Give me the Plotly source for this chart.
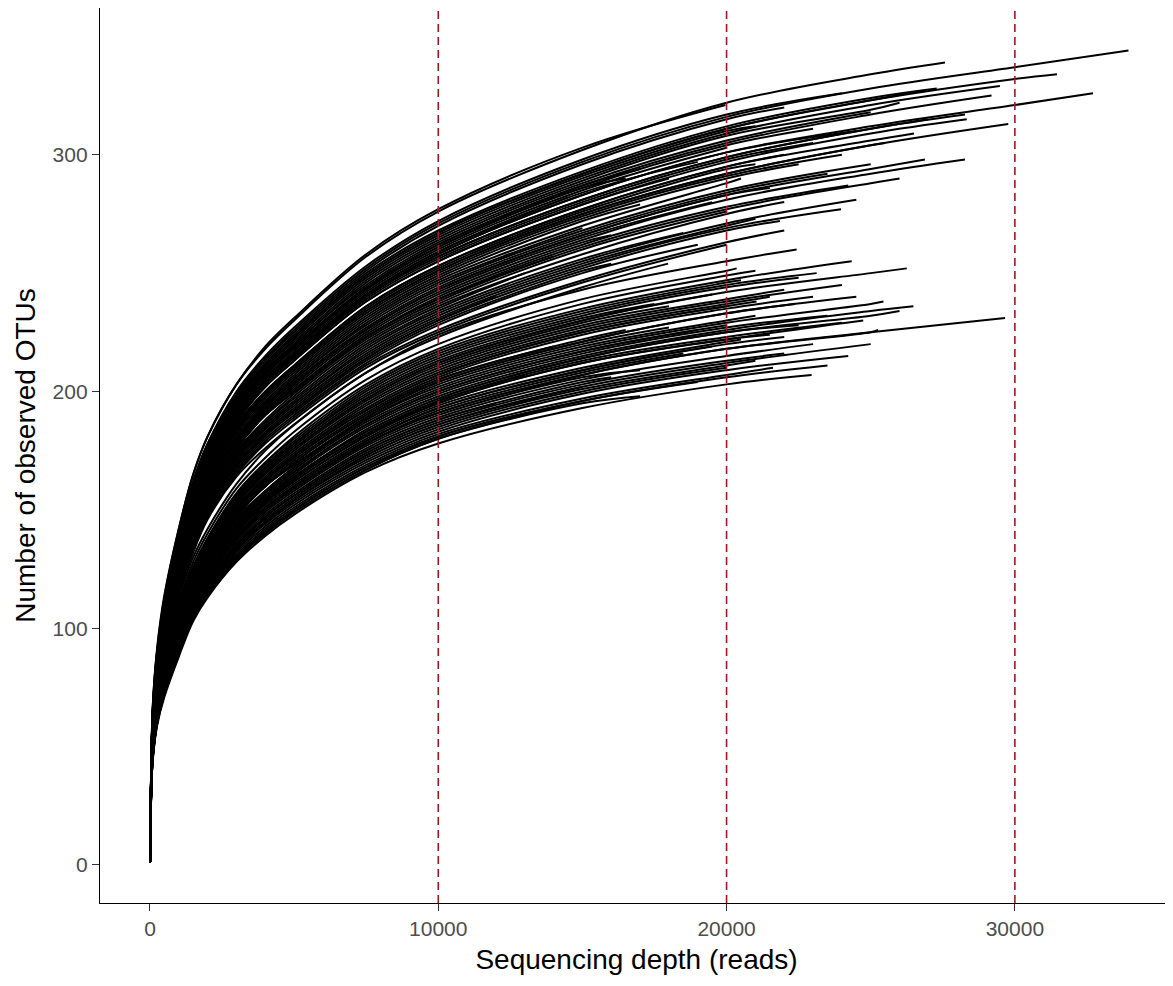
import plotly.graph_objects as go

# Rarefaction depths at which each curve was read (reads)
DEPTHS = [1, 50, 100, 250, 500, 1000, 1500, 2000, 3000, 4000, 5000, 7500,
          10000, 15000, 20000, 25000, 30000]

# Upper cluster of samples: final sequencing depth and observed OTUs at DEPTHS (< end) + at end
UPPER_END_DEPTH = [27575, 33940, 31460, 32710, 29480, 29190, 28270, 28330, 29770, 26810,
                   27290, 28270, 26880, 24220, 19960, 21850, 23970, 17970, 25000, 26000,
                   24500, 23000, 22000, 27000, 26500, 25500, 21000, 19000, 18000, 16500,
                   24000, 22500, 20500, 17000, 15000, 23500, 21500, 19500, 25000, 16000,
                   14000, 22000, 20000, 18500, 26000, 13000, 24500, 21000, 19000, 16000,
                   12000, 20000, 22000, 22000, 24000, 20000, 23000, 21000, 17000, 14500]
UPPER_OTUS = [
    [1, 47, 68, 91, 113, 142, 165, 181, 203, 218, 230, 257, 276, 302, 322, 334, 339],
    [1, 46, 66, 90, 111, 139, 162, 178, 199, 214, 226, 252, 271, 297, 316, 328, 337, 344],
    [1, 45, 65, 88, 109, 137, 159, 175, 196, 211, 223, 249, 267, 292, 311, 323, 332, 334],
    [1, 44, 63, 85, 105, 132, 154, 169, 189, 204, 215, 240, 258, 283, 301, 312, 321, 326],
    [1, 45, 65, 88, 108, 136, 158, 174, 195, 210, 221, 247, 265, 290, 309, 321, 329],
    [1, 45, 64, 87, 107, 134, 156, 172, 193, 208, 219, 244, 262, 287, 305, 317, 325],
    [1, 44, 63, 85, 105, 131, 153, 168, 189, 204, 215, 240, 257, 281, 299, 311, 317],
    [1, 44, 63, 84, 104, 130, 152, 167, 187, 202, 213, 238, 255, 279, 297, 309, 315],
    [1, 43, 62, 83, 102, 128, 149, 164, 184, 199, 210, 234, 251, 275, 292, 304, 313],
    [1, 45, 65, 88, 109, 137, 159, 175, 196, 211, 223, 249, 267, 292, 311, 323, 327],
    [1, 46, 66, 89, 110, 138, 160, 176, 197, 212, 224, 250, 268, 293, 312, 324, 328],
    [1, 42, 59, 80, 98, 123, 144, 158, 177, 191, 201, 224, 241, 264, 281, 292, 298],
    [1, 42, 60, 80, 99, 124, 145, 159, 179, 192, 203, 226, 243, 266, 283, 294, 298],
    [1, 42, 59, 79, 97, 122, 143, 157, 176, 190, 200, 223, 239, 262, 278, 287],
    [1, 47, 68, 92, 114, 142, 165, 181, 203, 219, 231, 258, 277, 303, 321],
    [1, 40, 57, 76, 93, 117, 137, 151, 169, 182, 192, 214, 230, 252, 268, 272],
    [1, 40, 57, 76, 94, 117, 137, 151, 170, 183, 193, 215, 231, 253, 269, 277],
    [1, 39, 55, 74, 90, 113, 132, 146, 164, 176, 186, 208, 223, 244, 254],
    [1, 45, 65, 87, 108, 135, 157, 172, 193, 208, 220, 245, 263, 288, 306, 318],
    [1, 45, 65, 87, 108, 135, 157, 173, 194, 209, 220, 246, 264, 289, 308, 319, 322],
    [1, 44, 63, 85, 105, 132, 154, 169, 189, 204, 215, 240, 258, 283, 301, 310],
    [1, 44, 63, 85, 105, 131, 153, 168, 188, 203, 214, 239, 256, 280, 298, 305],
    [1, 43, 62, 84, 103, 129, 151, 166, 186, 200, 211, 236, 253, 277, 295, 300],
    [1, 44, 63, 85, 105, 131, 153, 168, 189, 204, 215, 240, 257, 281, 299, 311, 315],
    [1, 43, 62, 84, 103, 129, 151, 166, 186, 200, 211, 236, 253, 277, 295, 306, 309],
    [1, 43, 62, 83, 102, 128, 149, 164, 184, 199, 210, 234, 251, 275, 292, 304, 305],
    [1, 43, 62, 83, 103, 129, 150, 165, 185, 199, 210, 235, 252, 276, 294, 296],
    [1, 44, 64, 86, 106, 133, 155, 170, 190, 205, 216, 241, 259, 284, 297],
    [1, 44, 63, 84, 104, 130, 152, 167, 187, 202, 213, 238, 255, 279, 290],
    [1, 45, 64, 86, 107, 134, 156, 171, 192, 207, 218, 243, 261, 286, 290],
    [1, 43, 62, 83, 102, 128, 149, 164, 184, 198, 209, 233, 250, 274, 291, 300],
    [1, 43, 61, 82, 102, 127, 148, 163, 183, 197, 208, 232, 249, 273, 290, 296],
    [1, 43, 61, 82, 101, 126, 147, 162, 181, 195, 206, 230, 247, 270, 288, 290],
    [1, 43, 61, 82, 101, 126, 147, 162, 182, 196, 207, 231, 248, 272, 279],
    [1, 43, 61, 81, 100, 125, 146, 161, 180, 194, 205, 229, 246, 269],
    [1, 42, 60, 81, 99, 124, 145, 160, 179, 193, 204, 227, 244, 267, 284, 292],
    [1, 42, 60, 80, 99, 124, 145, 159, 179, 192, 203, 226, 243, 266, 283, 286],
    [1, 42, 60, 80, 99, 123, 144, 159, 178, 191, 202, 225, 242, 265, 280],
    [1, 42, 60, 81, 100, 125, 145, 160, 180, 194, 205, 228, 245, 268, 285, 296],
    [1, 42, 59, 79, 98, 122, 143, 157, 176, 190, 200, 223, 240, 263, 266],
    [1, 42, 59, 79, 97, 122, 143, 157, 176, 190, 200, 223, 239, 257],
    [1, 41, 58, 78, 96, 120, 140, 155, 174, 187, 197, 220, 236, 258, 275, 280],
    [1, 41, 59, 78, 96, 120, 140, 155, 174, 187, 198, 221, 237, 260, 276],
    [1, 41, 58, 77, 95, 119, 139, 153, 172, 185, 195, 218, 234, 256, 267],
    [1, 41, 59, 79, 97, 121, 141, 156, 175, 188, 199, 222, 238, 261, 277, 288, 290],
    [1, 41, 58, 78, 96, 119, 139, 154, 173, 186, 196, 219, 235, 250],
    [1, 41, 58, 77, 95, 118, 138, 153, 172, 185, 195, 217, 233, 255, 271, 281],
    [1, 41, 57, 77, 94, 118, 138, 152, 171, 184, 194, 216, 232, 254, 270, 273],
    [1, 40, 56, 75, 92, 115, 135, 149, 167, 180, 190, 212, 228, 250, 262],
    [1, 40, 57, 76, 93, 116, 136, 150, 168, 181, 191, 213, 229, 251, 254],
    [1, 40, 57, 76, 93, 117, 137, 151, 169, 182, 192, 214, 230, 240],
    [1, 40, 56, 74, 91, 114, 133, 147, 165, 178, 188, 210, 225, 246, 262],
    [1, 40, 56, 75, 92, 114, 134, 148, 166, 179, 189, 211, 226, 247, 263, 268],
    [1, 46, 66, 89, 111, 139, 161, 177, 198, 213, 225, 251, 270, 296, 315, 320],
    [1, 46, 67, 90, 111, 140, 162, 178, 200, 215, 227, 253, 272, 298, 317, 326],
    [1, 44, 64, 86, 106, 133, 155, 170, 191, 206, 217, 242, 260, 285, 303],
    [1, 45, 64, 86, 107, 134, 156, 171, 192, 207, 218, 243, 261, 286, 304, 311],
    [1, 45, 65, 88, 109, 136, 158, 174, 195, 210, 222, 248, 266, 291, 310, 312],
    [1, 45, 64, 87, 107, 134, 156, 172, 193, 208, 219, 244, 262, 287, 294],
    [1, 44, 64, 86, 106, 133, 155, 170, 190, 205, 216, 241, 259, 282],
]

# Lower cluster of samples
LOWER_END_DEPTH = [22430, 24340, 26250, 23125, 21040, 22370, 25440, 26480, 29660, 24740,
                   25260, 24220, 22950, 21610, 20350, 24000, 23000, 22000, 21000, 20000,
                   19000, 18000, 24500, 23500, 22500, 21500, 20500, 19500, 18500, 17000,
                   16000, 24000, 23000, 22000, 21000, 20000, 19000, 15000, 25000, 14000,
                   23500, 22000, 20000, 21500, 18000, 16500, 19500, 22500, 20500, 17500,
                   21000, 13000, 12000, 14000, 17000, 26000]
LOWER_OTUS = [
    [1, 39, 56, 74, 91, 113, 130, 142, 161, 175, 186, 208, 224, 243, 255, 260],
    [1, 38, 54, 72, 88, 109, 126, 138, 157, 170, 180, 202, 217, 235, 247, 255],
    [1, 38, 53, 70, 86, 107, 123, 135, 153, 166, 176, 197, 212, 230, 242, 250, 252],
    [1, 38, 54, 71, 87, 108, 125, 137, 155, 168, 178, 200, 215, 233, 245, 250],
    [1, 37, 52, 69, 83, 104, 120, 131, 149, 162, 172, 192, 207, 225, 236, 238],
    [1, 37, 51, 68, 82, 102, 118, 130, 147, 160, 169, 189, 204, 221, 233, 237],
    [1, 36, 50, 67, 81, 101, 117, 128, 145, 157, 167, 187, 201, 218, 229, 237, 238],
    [1, 36, 50, 66, 80, 99, 115, 126, 143, 155, 164, 184, 198, 215, 226, 234, 236],
    [1, 35, 48, 63, 77, 95, 110, 121, 138, 150, 159, 178, 191, 207, 218, 225, 231],
    [1, 35, 49, 65, 78, 97, 113, 124, 141, 153, 162, 181, 195, 212, 222, 230],
    [1, 35, 48, 63, 77, 95, 110, 121, 138, 150, 159, 178, 191, 207, 218, 225, 226],
    [1, 34, 46, 61, 73, 91, 106, 116, 132, 143, 152, 170, 183, 199, 209, 215],
    [1, 33, 45, 59, 71, 88, 103, 113, 128, 139, 148, 166, 178, 193, 203, 207],
    [1, 34, 46, 60, 73, 90, 105, 116, 131, 142, 151, 169, 182, 197, 207, 210],
    [1, 39, 55, 73, 89, 111, 128, 140, 159, 172, 183, 205, 220, 239, 251, 252],
    [1, 37, 52, 69, 84, 105, 121, 133, 151, 163, 173, 194, 209, 227, 238, 245],
    [1, 37, 51, 68, 83, 103, 119, 131, 149, 161, 171, 191, 206, 224, 235, 240],
    [1, 37, 52, 70, 85, 106, 122, 133, 151, 164, 174, 195, 210, 228, 239, 243],
    [1, 36, 51, 67, 81, 101, 117, 128, 146, 158, 168, 188, 202, 219, 230, 232],
    [1, 37, 52, 69, 83, 104, 120, 131, 149, 162, 172, 192, 207, 225, 236],
    [1, 36, 50, 66, 80, 100, 116, 127, 144, 156, 166, 186, 200, 217, 226],
    [1, 36, 51, 67, 82, 102, 118, 129, 146, 158, 168, 188, 203, 220, 227],
    [1, 37, 51, 68, 82, 102, 118, 130, 147, 160, 169, 189, 204, 221, 233, 240],
    [1, 36, 50, 66, 80, 100, 115, 126, 143, 155, 165, 185, 199, 216, 227, 232],
    [1, 36, 49, 65, 79, 98, 114, 125, 142, 154, 164, 183, 197, 214, 225, 228],
    [1, 35, 49, 65, 78, 97, 113, 124, 141, 153, 162, 181, 195, 212, 222, 224],
    [1, 35, 49, 64, 78, 97, 112, 123, 140, 152, 161, 180, 194, 210, 221, 222],
    [1, 35, 48, 64, 77, 96, 112, 123, 139, 151, 160, 179, 193, 209, 219],
    [1, 35, 48, 64, 77, 96, 111, 122, 138, 150, 159, 178, 192, 208, 216],
    [1, 35, 48, 63, 76, 95, 110, 121, 137, 149, 158, 177, 190, 206, 209],
    [1, 34, 47, 62, 75, 94, 109, 119, 135, 147, 156, 175, 188, 204, 206],
    [1, 36, 49, 65, 79, 98, 113, 124, 141, 153, 163, 182, 196, 213, 223, 229],
    [1, 35, 48, 63, 76, 94, 109, 120, 136, 148, 157, 176, 189, 205, 215, 220],
    [1, 34, 47, 62, 75, 93, 108, 119, 135, 146, 155, 174, 187, 203, 213, 216],
    [1, 34, 47, 61, 74, 92, 107, 117, 133, 145, 154, 172, 185, 201, 211, 213],
    [1, 34, 46, 61, 74, 91, 106, 117, 133, 144, 153, 171, 184, 200, 210],
    [1, 33, 46, 60, 72, 90, 105, 115, 130, 141, 150, 168, 181, 196, 204],
    [1, 34, 47, 62, 74, 92, 107, 118, 134, 145, 154, 173, 186, 202],
    [1, 34, 47, 62, 74, 92, 107, 118, 134, 145, 154, 173, 186, 202, 212, 220],
    [1, 33, 45, 60, 72, 89, 104, 114, 129, 140, 149, 167, 180, 193],
    [1, 33, 46, 60, 72, 90, 105, 115, 130, 141, 150, 168, 181, 196, 206, 211],
    [1, 35, 48, 64, 77, 96, 112, 123, 139, 151, 160, 179, 193, 209, 220, 223],
    [1, 36, 50, 66, 80, 100, 116, 127, 144, 156, 166, 186, 200, 217, 228],
    [1, 37, 52, 69, 84, 105, 121, 132, 150, 163, 173, 193, 208, 226, 237, 240],
    [1, 38, 53, 70, 85, 106, 122, 134, 152, 165, 175, 196, 211, 229, 236],
    [1, 37, 51, 68, 83, 103, 119, 130, 148, 160, 170, 190, 205, 222, 226],
    [1, 38, 53, 70, 86, 107, 123, 135, 153, 166, 176, 197, 212, 230, 241],
    [1, 38, 53, 71, 86, 108, 124, 136, 155, 168, 178, 199, 214, 232, 244, 248],
    [1, 38, 54, 72, 87, 109, 125, 137, 156, 169, 179, 201, 216, 234, 246, 247],
    [1, 38, 53, 71, 86, 107, 123, 135, 154, 167, 177, 198, 213, 231, 237],
    [1, 39, 54, 72, 88, 110, 126, 138, 157, 170, 181, 203, 218, 237, 249, 251],
    [1, 36, 49, 65, 79, 98, 113, 124, 141, 153, 163, 182, 196, 207],
    [1, 34, 47, 62, 75, 94, 109, 119, 135, 147, 156, 175, 188, 195],
    [1, 37, 51, 68, 83, 103, 119, 130, 148, 160, 170, 190, 205, 219],
    [1, 33, 45, 60, 72, 89, 104, 114, 129, 140, 149, 167, 180, 195, 198],
    [1, 36, 49, 65, 79, 98, 114, 125, 142, 154, 164, 183, 197, 214, 225, 232, 234],
]

VLINE_DEPTHS = [10000, 20000, 30000]
X_TICKS = [0, 10000, 20000, 30000]
Y_TICKS = [0, 100, 200, 300]
X_TITLE = "Sequencing depth (reads)"
Y_TITLE = "Number of observed OTUs"

xs, ys = [], []
for ends, rows in ((UPPER_END_DEPTH, UPPER_OTUS), (LOWER_END_DEPTH, LOWER_OTUS)):
    for end, row in zip(ends, rows):
        cx = [d for d in DEPTHS if d < end] + [end]
        assert len(cx) == len(row), (end, row)
        xs += cx + [None]
        ys += row + [None]

fig = go.Figure()
fig.add_trace(go.Scatter(
    x=xs, y=ys, mode="lines", connectgaps=False, hoverinfo="skip",
    line=dict(color="black", width=2.0, shape="spline", smoothing=1.0),
))

for v in VLINE_DEPTHS:
    fig.add_shape(type="line", x0=v, x1=v, xref="x", y0=0, y1=1, yref="paper",
                  line=dict(color="#9E1A20", width=1.6, dash="8px,5px"), layer="above")

FONT = "Liberation Sans, Arial, sans-serif"
axis_common = dict(
    showline=True, linecolor="black", linewidth=1.4, mirror=False,
    ticks="outside", ticklen=7, tickwidth=1.4, tickcolor="#333333",
    tickfont=dict(family=FONT, size=21, color="#4D4D4D"),
    showgrid=False, zeroline=False,
)

# The page body adds an 8px offset, so margins are shifted to place the panel
# at x 100..1173 and y 8..903 in the window.
fig.update_layout(
    width=1173, height=986,
    margin=dict(l=92, r=8, t=0, b=91),
    plot_bgcolor="white", paper_bgcolor="white",
    showlegend=False,
    font=dict(family=FONT, color="black"),
    xaxis=dict(range=[-1734, 35485], tickvals=X_TICKS, ticktext=[str(t) for t in X_TICKS],
               title=dict(text=X_TITLE, font=dict(family=FONT, size=28, color="black"), standoff=9),
               **axis_common),
    yaxis=dict(range=[-16.1, 362], tickvals=Y_TICKS, ticktext=[str(t) for t in Y_TICKS],
               title=dict(text=Y_TITLE, font=dict(family=FONT, size=28, color="black"), standoff=8),
               **axis_common),
)

fig.write_html("out.html")
